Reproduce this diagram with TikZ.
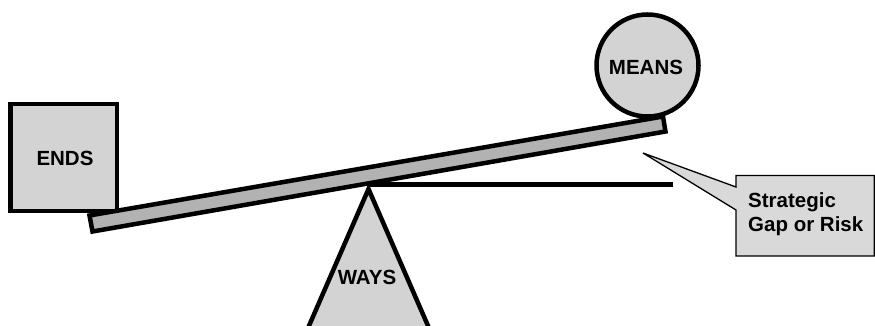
\documentclass[tikz,border=0pt]{standalone}
\usepackage{fontspec}
\setmainfont{Liberation Sans}
\definecolor{lightfill}{HTML}{D3D3D3}
\definecolor{plankfill}{HTML}{B2B2B2}
\definecolor{calloutfill}{HTML}{D9D9D9}
\begin{document}
\begin{tikzpicture}[x=1pt,y=-1pt,
  heavy/.style={line width=4.5pt, line join=miter},
  lbl/.style={font=\bfseries\fontsize{20.5}{24}\selectfont, inner sep=0pt}]
\useasboundingbox (0,0) rectangle (875,326);
% ENDS box
\draw[heavy, fill=lightfill] (10.25,104.25) rectangle (116.75,210.75);
\node[lbl] (ends) at (65,158) {ENDS};
% MEANS circle
\draw[heavy, fill=lightfill] (647.5,65.5) circle (51);
\node[lbl] (means) at (646,67) {MEANS};
% WAYS triangle
\draw[heavy, fill=lightfill] (368.5,189) -- (432,335) -- (305,335) -- cycle;
\node[lbl] (ways) at (367,277.5) {WAYS};
% level line
\coordinate (apex) at (369,184.5);
\coordinate (lvl) at (673,184.5);
\draw[line width=4.5pt] (apex) -- (lvl);
% plank
\draw[heavy, fill=plankfill] (89.5,215.5) -- (663,116.5) -- (665.5,131.5) -- (92.5,231.5) -- cycle;
% callout
\draw[line width=1.3pt, fill=calloutfill] (736,175.5) -- (874.3,175.5) -- (874.3,256) -- (736,256) -- (736,210) -- (643,153) -- (736,187) -- cycle;
\node[lbl, align=left, anchor=base west] (gap) at (748,231) {Strategic\\Gap or Risk};
\end{tikzpicture}
\end{document}
